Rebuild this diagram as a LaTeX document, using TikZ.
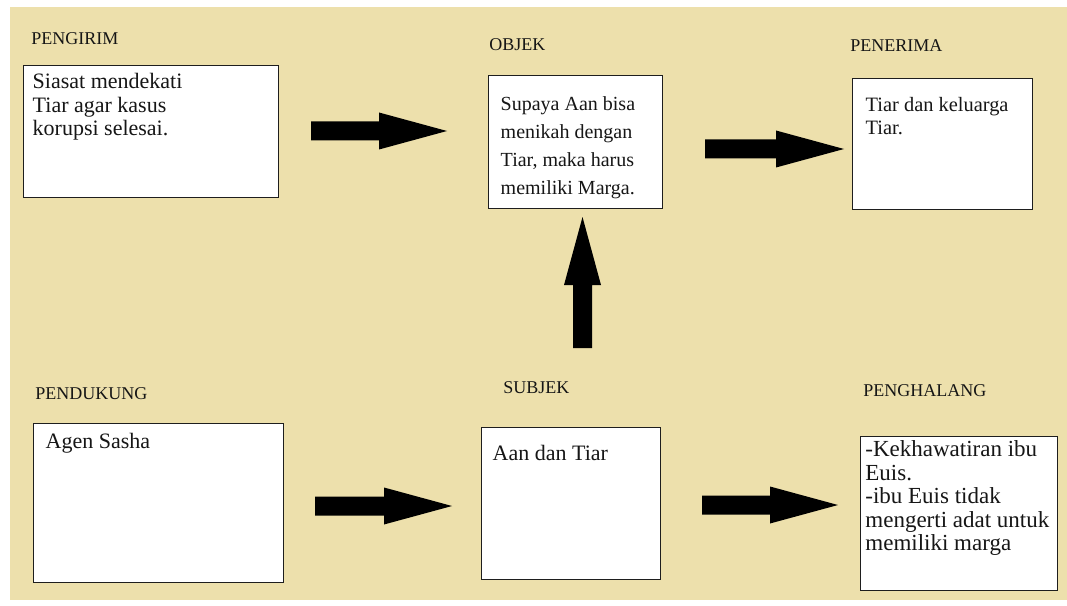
\documentclass[tikz,border=0pt]{standalone}
\usepackage{fontspec}
\setmainfont{Liberation Serif}
\usetikzlibrary{calc}

\definecolor{parchment}{RGB}{237,224,172}
\definecolor{ink}{RGB}{22,22,22}
\definecolor{frame}{RGB}{30,30,30}

% box body: width, height, left pad, first baseline, line skip, font size, lines
\newcommand\panelbody[7]{\parbox[t][#2][t]{#1}{\raggedright\leftskip=#3\relax
  \fontsize{#6}{#5}\selectfont\rule{0pt}{#4}#7}}

% thick block arrow from #2 to #3, head base named #1-base
\newcommand\blockarrow[3]{%
  \coordinate (#1-base) at ($(#3)!51pt!(#2)$);
  \fill[arrowink] ($(#2)!7.125pt!90:(#3)$) -- ($(#1-base)!7.125pt!90:(#3)$)
    -- ($(#1-base)!13.875pt!90:(#3)$) -- (#3)
    -- ($(#1-base)!13.875pt!-90:(#3)$) -- ($(#1-base)!7.125pt!-90:(#3)$)
    -- ($(#2)!7.125pt!-90:(#3)$) -- cycle;}

\tikzset{
  panel/.style={draw=frame, line width=1.1pt, fill=white, inner sep=0pt,
    anchor=north west, text=ink},
  tag/.style={inner sep=0pt, anchor=base west, text=ink,
    font=\fontsize{13.5pt}{16pt}\selectfont},
  arrowink/.style={fill=black}
}

\begin{document}
\begin{tikzpicture}[x=0.75pt,y=-0.75pt]
  \useasboundingbox (0,0) rectangle (1067,606);
  \fill[white] (0,0) rectangle (1067,606);
  \fill[parchment] (10,7) rectangle (1067,600);

  % headings
  \node[tag] (t-pengirim) at (31,45) {PENGIRIM};
  \node[tag] (t-objek) at (489,51) {OBJEK};
  \node[tag] (t-penerima) at (850,52) {PENERIMA};
  \node[tag] (t-pendukung) at (35,399) {PENDUKUNG};
  \node[tag] (t-subjek) at (503,393) {SUBJEK};
  \node[tag] (t-penghalang) at (863,396) {PENGHALANG};

  % boxes
  \node[panel] (pengirim) at (23,65)
    {\panelbody{191.25pt}{99pt}{6.75pt}{17.25pt}{17.625pt}{16.5pt}
      {Siasat mendekati\\Tiar agar kasus\\korupsi selesai.}};
  \node[panel] (objek) at (488,75)
    {\panelbody{130.5pt}{99.75pt}{9pt}{26.25pt}{21pt}{15pt}
      {Supaya Aan bisa\\menikah dengan\\Tiar, maka harus\\memiliki Marga.}};
  \node[panel] (penerima) at (852,78)
    {\panelbody{135pt}{98.25pt}{9.75pt}{24.75pt}{17.25pt}{15.3pt}
      {Tiar dan keluarga\\Tiar.}};
  \node[panel] (pendukung) at (33,423)
    {\panelbody{187.5pt}{119.25pt}{9pt}{18.75pt}{19.5pt}{16.5pt}{Agen Sasha}};
  \node[panel] (subjek) at (481,427)
    {\panelbody{134.25pt}{114pt}{8.25pt}{24.75pt}{19.5pt}{16.5pt}{Aan dan Tiar}};
  \node[panel] (penghalang) at (860,436)
    {\panelbody{147.75pt}{115.5pt}{3.5pt}{15pt}{17.625pt}{17.25pt}
      {-Kekhawatiran ibu\\Euis.\\-ibu Euis tidak\\mengerti adat untuk\\memiliki marga}};

  % arrow end points
  \coordinate (a1-tail) at (311,131);  \coordinate (a1-tip) at (447,131);
  \coordinate (a2-tail) at (705,149);  \coordinate (a2-tip) at (844,149);
  \coordinate (a3-tail) at (582.5,348); \coordinate (a3-tip) at (582.5,217);
  \coordinate (a4-tail) at (315,506);  \coordinate (a4-tip) at (452,506);
  \coordinate (a5-tail) at (702,505);  \coordinate (a5-tip) at (838,505);

  \blockarrow{a1}{a1-tail}{a1-tip}
  \blockarrow{a2}{a2-tail}{a2-tip}
  \blockarrow{a3}{a3-tail}{a3-tip}
  \blockarrow{a4}{a4-tail}{a4-tip}
  \blockarrow{a5}{a5-tail}{a5-tip}
\end{tikzpicture}
\end{document}
